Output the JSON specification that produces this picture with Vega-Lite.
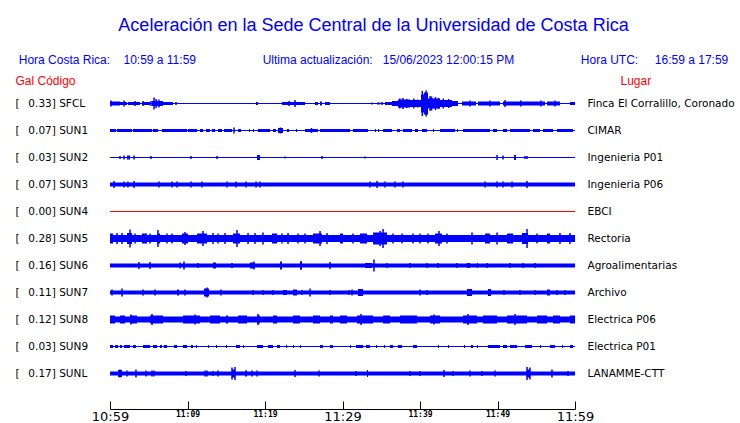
{
  "$schema": "https://vega.github.io/schema/vega-lite/v6.json",
  "width": 465,
  "height": 297,
  "autosize": {"type": "none"},
  "padding": {"left": 110, "top": 90, "right": 165, "bottom": 36},
  "background": "white",
  "config": {"view": {"stroke": null}},
  "title": {
    "text": "Aceleración en la Sede Central de la Universidad de Costa Rica",
    "subtitle": "Hora Costa Rica:\u00a0\u00a0\u00a0\u00a010:59 a 11:59\u00a0\u00a0\u00a0\u00a0\u00a0\u00a0\u00a0\u00a0\u00a0\u00a0\u00a0\u00a0\u00a0\u00a0\u00a0\u00a0\u00a0\u00a0\u00a0\u00a0Ultima actualización:\u00a0\u00a0\u00a015/06/2023 12:00:15 PM\u00a0\u00a0\u00a0\u00a0\u00a0\u00a0\u00a0\u00a0\u00a0\u00a0\u00a0\u00a0\u00a0\u00a0\u00a0\u00a0\u00a0\u00a0\u00a0\u00a0Hora UTC:\u00a0\u00a0\u00a0\u00a0\u00a016:59 a 17:59\u00a0",
    "anchor": "middle",
    "frame": "group",
    "dx": 31,
    "offset": 8,
    "font": "Liberation Sans",
    "fontSize": 18,
    "fontWeight": "normal",
    "color": "#0000ff",
    "subtitleFont": "Liberation Sans",
    "subtitleFontSize": 12,
    "subtitleColor": "#0000ff",
    "subtitlePadding": 20
  },
  "datasets": {
    "stations": [
      {"code": "SFCL", "gal": 0.33, "place": "Finca El Corralillo, Coronado", "label": "[\u00a0\u00a0\u20090.33] SFCL"},
      {"code": "SUN1", "gal": 0.07, "place": "CIMAR", "label": "[\u00a0\u00a0\u20090.07] SUN1"},
      {"code": "SUN2", "gal": 0.03, "place": "Ingenieria P01", "label": "[\u00a0\u00a0\u20090.03] SUN2"},
      {"code": "SUN3", "gal": 0.07, "place": "Ingenieria P06", "label": "[\u00a0\u00a0\u20090.07] SUN3"},
      {"code": "SUN4", "gal": 0.0, "place": "EBCI", "label": "[\u00a0\u00a0\u20090.00] SUN4"},
      {"code": "SUN5", "gal": 0.28, "place": "Rectoria", "label": "[\u00a0\u00a0\u20090.28] SUN5"},
      {"code": "SUN6", "gal": 0.16, "place": "Agroalimentarias", "label": "[\u00a0\u00a0\u20090.16] SUN6"},
      {"code": "SUN7", "gal": 0.11, "place": "Archivo", "label": "[\u00a0\u00a0\u20090.11] SUN7"},
      {"code": "SUN8", "gal": 0.12, "place": "Electrica P06", "label": "[\u00a0\u00a0\u20090.12] SUN8"},
      {"code": "SUN9", "gal": 0.03, "place": "Electrica P01", "label": "[\u00a0\u00a0\u20090.03] SUN9"},
      {"code": "SUNL", "gal": 0.17, "place": "LANAMME-CTT", "label": "[\u00a0\u00a0\u20090.17] SUNL"}
    ],
    "bands": [
      {"code": "SFCL", "start": 0, "end": 1.29, "amp": 4},
      {"code": "SFCL", "start": 1.29, "end": 2.19, "amp": 3},
      {"code": "SFCL", "start": 2.32, "end": 3.87, "amp": 3},
      {"code": "SFCL", "start": 4.13, "end": 5.16, "amp": 3},
      {"code": "SFCL", "start": 5.42, "end": 6.84, "amp": 5},
      {"code": "SFCL", "start": 6.84, "end": 8.13, "amp": 3},
      {"code": "SFCL", "start": 18.84, "end": 19.1, "amp": 3},
      {"code": "SFCL", "start": 22.19, "end": 25.16, "amp": 3},
      {"code": "SFCL", "start": 26.45, "end": 26.84, "amp": 3},
      {"code": "SFCL", "start": 27.1, "end": 27.35, "amp": 4},
      {"code": "SFCL", "start": 27.74, "end": 28.39, "amp": 3},
      {"code": "SFCL", "start": 34.45, "end": 34.84, "amp": 2},
      {"code": "SFCL", "start": 35.48, "end": 36.39, "amp": 3},
      {"code": "SFCL", "start": 36.39, "end": 37.16, "amp": 5},
      {"code": "SFCL", "start": 37.16, "end": 38.71, "amp": 8},
      {"code": "SFCL", "start": 38.71, "end": 40.13, "amp": 7},
      {"code": "SFCL", "start": 40.13, "end": 40.52, "amp": 18},
      {"code": "SFCL", "start": 40.52, "end": 41.03, "amp": 22},
      {"code": "SFCL", "start": 41.03, "end": 42.58, "amp": 10},
      {"code": "SFCL", "start": 42.58, "end": 44.13, "amp": 7},
      {"code": "SFCL", "start": 44.13, "end": 44.9, "amp": 5},
      {"code": "SFCL", "start": 45.42, "end": 47.23, "amp": 4},
      {"code": "SFCL", "start": 47.48, "end": 50.32, "amp": 4},
      {"code": "SFCL", "start": 50.71, "end": 54.19, "amp": 4},
      {"code": "SFCL", "start": 54.19, "end": 56.13, "amp": 4},
      {"code": "SFCL", "start": 56.39, "end": 58.06, "amp": 4},
      {"code": "SFCL", "start": 59.35, "end": 60, "amp": 3},

      {"code": "SUN1", "start": 0, "end": 0.77, "amp": 3},
      {"code": "SUN1", "start": 0.9, "end": 2.84, "amp": 3},
      {"code": "SUN1", "start": 2.97, "end": 5.42, "amp": 3},
      {"code": "SUN1", "start": 5.55, "end": 6.19, "amp": 3},
      {"code": "SUN1", "start": 6.71, "end": 9.94, "amp": 3},
      {"code": "SUN1", "start": 10.06, "end": 11.23, "amp": 3},
      {"code": "SUN1", "start": 11.61, "end": 12.0, "amp": 3},
      {"code": "SUN1", "start": 12.39, "end": 12.9, "amp": 3},
      {"code": "SUN1", "start": 13.16, "end": 13.55, "amp": 3},
      {"code": "SUN1", "start": 13.94, "end": 14.45, "amp": 3},
      {"code": "SUN1", "start": 14.71, "end": 15.74, "amp": 3},
      {"code": "SUN1", "start": 16.52, "end": 16.9, "amp": 3},
      {"code": "SUN1", "start": 17.94, "end": 18.06, "amp": 3},
      {"code": "SUN1", "start": 18.45, "end": 18.58, "amp": 3},
      {"code": "SUN1", "start": 19.1, "end": 20.65, "amp": 3},
      {"code": "SUN1", "start": 21.03, "end": 21.42, "amp": 3},
      {"code": "SUN1", "start": 21.68, "end": 22.32, "amp": 5},
      {"code": "SUN1", "start": 22.84, "end": 23.1, "amp": 3},
      {"code": "SUN1", "start": 24.0, "end": 24.13, "amp": 3},
      {"code": "SUN1", "start": 25.16, "end": 26.84, "amp": 3},
      {"code": "SUN1", "start": 27.1, "end": 30.97, "amp": 3},
      {"code": "SUN1", "start": 31.35, "end": 33.29, "amp": 3},
      {"code": "SUN1", "start": 34.19, "end": 34.32, "amp": 3},
      {"code": "SUN1", "start": 34.58, "end": 34.71, "amp": 3},
      {"code": "SUN1", "start": 35.23, "end": 36.39, "amp": 3},
      {"code": "SUN1", "start": 37.03, "end": 37.42, "amp": 3},
      {"code": "SUN1", "start": 37.81, "end": 38.97, "amp": 3},
      {"code": "SUN1", "start": 39.35, "end": 39.74, "amp": 3},
      {"code": "SUN1", "start": 40.26, "end": 40.9, "amp": 3},
      {"code": "SUN1", "start": 41.68, "end": 41.81, "amp": 3},
      {"code": "SUN1", "start": 42.58, "end": 44.52, "amp": 3},
      {"code": "SUN1", "start": 44.77, "end": 44.9, "amp": 3},
      {"code": "SUN1", "start": 45.55, "end": 49.03, "amp": 3},
      {"code": "SUN1", "start": 49.42, "end": 49.94, "amp": 3},
      {"code": "SUN1", "start": 50.71, "end": 51.23, "amp": 3},
      {"code": "SUN1", "start": 51.61, "end": 54.19, "amp": 3},
      {"code": "SUN1", "start": 54.58, "end": 55.48, "amp": 3},
      {"code": "SUN1", "start": 55.87, "end": 57.16, "amp": 3},
      {"code": "SUN1", "start": 57.68, "end": 59.74, "amp": 3},

      {"code": "SUN2", "start": 2.19, "end": 2.58, "amp": 4},
      {"code": "SUN2", "start": 18.97, "end": 19.35, "amp": 5},
      {"code": "SUN2", "start": 52.13, "end": 52.39, "amp": 5},

      {"code": "SUN3", "start": 0, "end": 60, "amp": 4},

      {"code": "SUN5", "start": 0, "end": 60, "amp": 7},
      {"code": "SUN5", "start": 0, "end": 0.39, "amp": 10},
      {"code": "SUN5", "start": 2.19, "end": 2.84, "amp": 11},
      {"code": "SUN5", "start": 4.13, "end": 4.77, "amp": 10},
      {"code": "SUN5", "start": 6.06, "end": 6.45, "amp": 10},
      {"code": "SUN5", "start": 9.29, "end": 10.06, "amp": 10},
      {"code": "SUN5", "start": 11.23, "end": 12.52, "amp": 10},
      {"code": "SUN5", "start": 15.87, "end": 16.77, "amp": 10},
      {"code": "SUN5", "start": 20.9, "end": 21.55, "amp": 10},
      {"code": "SUN5", "start": 26.19, "end": 27.35, "amp": 10},
      {"code": "SUN5", "start": 29.68, "end": 30.06, "amp": 10},
      {"code": "SUN5", "start": 32.26, "end": 33.16, "amp": 10},
      {"code": "SUN5", "start": 33.94, "end": 35.74, "amp": 12},
      {"code": "SUN5", "start": 41.94, "end": 42.84, "amp": 10},
      {"code": "SUN5", "start": 48.39, "end": 49.03, "amp": 10},
      {"code": "SUN5", "start": 51.23, "end": 52.0, "amp": 10},
      {"code": "SUN5", "start": 53.16, "end": 53.94, "amp": 11},
      {"code": "SUN5", "start": 56.39, "end": 56.77, "amp": 10},

      {"code": "SUN6", "start": 0, "end": 60, "amp": 4},
      {"code": "SUN6", "start": 13.29, "end": 13.68, "amp": 6},
      {"code": "SUN6", "start": 18.06, "end": 18.58, "amp": 6},
      {"code": "SUN6", "start": 21.94, "end": 22.19, "amp": 8},
      {"code": "SUN6", "start": 24.52, "end": 24.77, "amp": 7},
      {"code": "SUN6", "start": 32.9, "end": 33.81, "amp": 5},
      {"code": "SUN6", "start": 46.06, "end": 46.45, "amp": 5},
      {"code": "SUN6", "start": 47.35, "end": 47.48, "amp": 5},

      {"code": "SUN7", "start": 0, "end": 60, "amp": 4},
      {"code": "SUN7", "start": 8.65, "end": 8.9, "amp": 6},
      {"code": "SUN7", "start": 12.13, "end": 12.77, "amp": 8},
      {"code": "SUN7", "start": 22.32, "end": 22.84, "amp": 5},
      {"code": "SUN7", "start": 23.61, "end": 24.13, "amp": 6},
      {"code": "SUN7", "start": 32.0, "end": 32.65, "amp": 7},
      {"code": "SUN7", "start": 46.06, "end": 46.71, "amp": 7},
      {"code": "SUN7", "start": 48.77, "end": 49.16, "amp": 7},
      {"code": "SUN7", "start": 56.39, "end": 56.77, "amp": 6},

      {"code": "SUN8", "start": 0, "end": 60, "amp": 6},
      {"code": "SUN8", "start": 0, "end": 0.65, "amp": 8},
      {"code": "SUN8", "start": 1.29, "end": 1.94, "amp": 8},
      {"code": "SUN8", "start": 2.58, "end": 3.48, "amp": 8},
      {"code": "SUN8", "start": 5.16, "end": 6.84, "amp": 8},
      {"code": "SUN8", "start": 9.42, "end": 11.61, "amp": 8},
      {"code": "SUN8", "start": 12.9, "end": 14.19, "amp": 8},
      {"code": "SUN8", "start": 14.97, "end": 15.23, "amp": 8},
      {"code": "SUN8", "start": 16.52, "end": 17.68, "amp": 8},
      {"code": "SUN8", "start": 18.97, "end": 19.35, "amp": 8},
      {"code": "SUN8", "start": 21.03, "end": 21.55, "amp": 8},
      {"code": "SUN8", "start": 23.61, "end": 24.52, "amp": 8},
      {"code": "SUN8", "start": 26.19, "end": 27.1, "amp": 8},
      {"code": "SUN8", "start": 28.39, "end": 28.77, "amp": 8},
      {"code": "SUN8", "start": 29.68, "end": 30.58, "amp": 8},
      {"code": "SUN8", "start": 31.87, "end": 33.94, "amp": 8},
      {"code": "SUN8", "start": 35.23, "end": 36.13, "amp": 8},
      {"code": "SUN8", "start": 37.42, "end": 39.61, "amp": 8},
      {"code": "SUN8", "start": 41.29, "end": 42.58, "amp": 8},
      {"code": "SUN8", "start": 45.55, "end": 47.35, "amp": 8},
      {"code": "SUN8", "start": 48.13, "end": 49.94, "amp": 8},
      {"code": "SUN8", "start": 51.23, "end": 53.81, "amp": 8},
      {"code": "SUN8", "start": 55.1, "end": 56.39, "amp": 8},
      {"code": "SUN8", "start": 57.16, "end": 58.06, "amp": 8},
      {"code": "SUN8", "start": 59.35, "end": 60, "amp": 8},

      {"code": "SUN9", "start": 0, "end": 0.39, "amp": 3},
      {"code": "SUN9", "start": 0.65, "end": 1.03, "amp": 3},
      {"code": "SUN9", "start": 1.29, "end": 1.55, "amp": 3},
      {"code": "SUN9", "start": 1.81, "end": 2.58, "amp": 3},
      {"code": "SUN9", "start": 2.97, "end": 3.35, "amp": 3},
      {"code": "SUN9", "start": 4.26, "end": 5.16, "amp": 3},
      {"code": "SUN9", "start": 5.55, "end": 6.06, "amp": 3},
      {"code": "SUN9", "start": 6.45, "end": 6.71, "amp": 3},
      {"code": "SUN9", "start": 6.97, "end": 7.35, "amp": 3},
      {"code": "SUN9", "start": 8.26, "end": 8.65, "amp": 3},
      {"code": "SUN9", "start": 9.42, "end": 9.94, "amp": 3},
      {"code": "SUN9", "start": 10.45, "end": 10.71, "amp": 3},
      {"code": "SUN9", "start": 11.1, "end": 11.23, "amp": 3},
      {"code": "SUN9", "start": 12.65, "end": 12.77, "amp": 3},
      {"code": "SUN9", "start": 13.68, "end": 13.81, "amp": 3},
      {"code": "SUN9", "start": 14.97, "end": 15.1, "amp": 3},
      {"code": "SUN9", "start": 16.26, "end": 16.77, "amp": 3},
      {"code": "SUN9", "start": 17.16, "end": 17.29, "amp": 3},
      {"code": "SUN9", "start": 18.97, "end": 19.74, "amp": 3},
      {"code": "SUN9", "start": 20.39, "end": 21.03, "amp": 3},
      {"code": "SUN9", "start": 21.55, "end": 21.94, "amp": 3},
      {"code": "SUN9", "start": 22.71, "end": 22.84, "amp": 3},
      {"code": "SUN9", "start": 23.61, "end": 23.74, "amp": 3},
      {"code": "SUN9", "start": 24.52, "end": 24.65, "amp": 3},
      {"code": "SUN9", "start": 27.1, "end": 27.48, "amp": 3},
      {"code": "SUN9", "start": 28.39, "end": 28.77, "amp": 3},
      {"code": "SUN9", "start": 30.97, "end": 31.1, "amp": 3},
      {"code": "SUN9", "start": 31.74, "end": 32.65, "amp": 3},
      {"code": "SUN9", "start": 33.03, "end": 33.55, "amp": 3},
      {"code": "SUN9", "start": 34.32, "end": 34.45, "amp": 3},
      {"code": "SUN9", "start": 35.35, "end": 35.48, "amp": 3},
      {"code": "SUN9", "start": 36.13, "end": 36.52, "amp": 3},
      {"code": "SUN9", "start": 37.16, "end": 37.68, "amp": 3},
      {"code": "SUN9", "start": 39.1, "end": 39.61, "amp": 3},
      {"code": "SUN9", "start": 42.32, "end": 42.45, "amp": 3},
      {"code": "SUN9", "start": 43.61, "end": 43.74, "amp": 3},
      {"code": "SUN9", "start": 45.68, "end": 45.81, "amp": 3},
      {"code": "SUN9", "start": 46.58, "end": 46.84, "amp": 3},
      {"code": "SUN9", "start": 47.35, "end": 47.48, "amp": 3},
      {"code": "SUN9", "start": 48.77, "end": 50.32, "amp": 3},
      {"code": "SUN9", "start": 50.71, "end": 51.23, "amp": 3},
      {"code": "SUN9", "start": 51.61, "end": 52.52, "amp": 3},
      {"code": "SUN9", "start": 53.55, "end": 54.45, "amp": 3},
      {"code": "SUN9", "start": 55.48, "end": 55.61, "amp": 3},
      {"code": "SUN9", "start": 56.77, "end": 57.42, "amp": 3},
      {"code": "SUN9", "start": 58.32, "end": 58.45, "amp": 3},
      {"code": "SUN9", "start": 59.35, "end": 59.74, "amp": 3},

      {"code": "SUNL", "start": 0, "end": 60, "amp": 4},
      {"code": "SUNL", "start": 1.03, "end": 1.55, "amp": 7},
      {"code": "SUNL", "start": 15.74, "end": 16.13, "amp": 8},
      {"code": "SUNL", "start": 17.42, "end": 17.68, "amp": 6},
      {"code": "SUNL", "start": 33.16, "end": 33.29, "amp": 7},
      {"code": "SUNL", "start": 53.81, "end": 54.19, "amp": 8}
    ],
    "spikes": [
      {"code": "SFCL", "t": 0.13, "amp": 6}, {"code": "SFCL", "t": 1.81, "amp": 6}, {"code": "SFCL", "t": 3.23, "amp": 5},
      {"code": "SFCL", "t": 4.26, "amp": 5}, {"code": "SFCL", "t": 5.29, "amp": 5}, {"code": "SFCL", "t": 5.68, "amp": 12},
      {"code": "SFCL", "t": 5.94, "amp": 9}, {"code": "SFCL", "t": 6.32, "amp": 8}, {"code": "SFCL", "t": 8.52, "amp": 3},
      {"code": "SFCL", "t": 23.1, "amp": 5}, {"code": "SFCL", "t": 23.87, "amp": 7}, {"code": "SFCL", "t": 33.81, "amp": 2},
      {"code": "SFCL", "t": 35.1, "amp": 3}, {"code": "SFCL", "t": 37.4, "amp": 10}, {"code": "SFCL", "t": 37.8, "amp": 11},
      {"code": "SFCL", "t": 38.3, "amp": 9}, {"code": "SFCL", "t": 39.2, "amp": 10}, {"code": "SFCL", "t": 39.7, "amp": 8},
      {"code": "SFCL", "t": 40.3, "amp": 25}, {"code": "SFCL", "t": 40.8, "amp": 26}, {"code": "SFCL", "t": 41.3, "amp": 15},
      {"code": "SFCL", "t": 41.5, "amp": 14}, {"code": "SFCL", "t": 42.0, "amp": 13}, {"code": "SFCL", "t": 42.4, "amp": 11},
      {"code": "SFCL", "t": 43.0, "amp": 10}, {"code": "SFCL", "t": 43.7, "amp": 9}, {"code": "SFCL", "t": 46.45, "amp": 6},
      {"code": "SFCL", "t": 49.03, "amp": 6}, {"code": "SFCL", "t": 50.97, "amp": 7}, {"code": "SFCL", "t": 53.0, "amp": 6},
      {"code": "SFCL", "t": 55.6, "amp": 6}, {"code": "SFCL", "t": 57.42, "amp": 6},

      {"code": "SUN1", "t": 16.0, "amp": 6}, {"code": "SUN1", "t": 22.0, "amp": 6}, {"code": "SUN1", "t": 26.0, "amp": 5},

      {"code": "SUN2", "t": 1.29, "amp": 3}, {"code": "SUN2", "t": 1.81, "amp": 4}, {"code": "SUN2", "t": 3.1, "amp": 4},
      {"code": "SUN2", "t": 5.29, "amp": 3}, {"code": "SUN2", "t": 10.45, "amp": 3}, {"code": "SUN2", "t": 13.81, "amp": 3},
      {"code": "SUN2", "t": 22.58, "amp": 2}, {"code": "SUN2", "t": 27.35, "amp": 3}, {"code": "SUN2", "t": 32.9, "amp": 2},
      {"code": "SUN2", "t": 49.94, "amp": 5}, {"code": "SUN2", "t": 50.71, "amp": 4}, {"code": "SUN2", "t": 53.55, "amp": 3},
      {"code": "SUN2", "t": 53.81, "amp": 3},

      {"code": "SUN3", "t": 0.52, "amp": 7}, {"code": "SUN3", "t": 1.81, "amp": 6}, {"code": "SUN3", "t": 2.32, "amp": 6},
      {"code": "SUN3", "t": 3.1, "amp": 7}, {"code": "SUN3", "t": 6.32, "amp": 6}, {"code": "SUN3", "t": 8.0, "amp": 6},
      {"code": "SUN3", "t": 8.65, "amp": 6}, {"code": "SUN3", "t": 10.45, "amp": 6}, {"code": "SUN3", "t": 11.87, "amp": 6},
      {"code": "SUN3", "t": 15.1, "amp": 6}, {"code": "SUN3", "t": 16.26, "amp": 6}, {"code": "SUN3", "t": 17.55, "amp": 6},
      {"code": "SUN3", "t": 18.84, "amp": 6}, {"code": "SUN3", "t": 19.35, "amp": 6}, {"code": "SUN3", "t": 33.55, "amp": 6},
      {"code": "SUN3", "t": 34.45, "amp": 7}, {"code": "SUN3", "t": 35.48, "amp": 6}, {"code": "SUN3", "t": 36.77, "amp": 6},
      {"code": "SUN3", "t": 37.8, "amp": 6}, {"code": "SUN3", "t": 48.39, "amp": 6}, {"code": "SUN3", "t": 49.94, "amp": 6},
      {"code": "SUN3", "t": 50.71, "amp": 6}, {"code": "SUN3", "t": 51.87, "amp": 6}, {"code": "SUN3", "t": 53.81, "amp": 7},

      {"code": "SUN5", "t": 0.9, "amp": 11}, {"code": "SUN5", "t": 1.55, "amp": 11}, {"code": "SUN5", "t": 2.58, "amp": 18},
      {"code": "SUN5", "t": 3.23, "amp": 10}, {"code": "SUN5", "t": 5.16, "amp": 10}, {"code": "SUN5", "t": 6.19, "amp": 17},
      {"code": "SUN5", "t": 7.35, "amp": 10}, {"code": "SUN5", "t": 8.0, "amp": 10}, {"code": "SUN5", "t": 9.68, "amp": 13},
      {"code": "SUN5", "t": 12.0, "amp": 15}, {"code": "SUN5", "t": 13.29, "amp": 11}, {"code": "SUN5", "t": 13.94, "amp": 10},
      {"code": "SUN5", "t": 14.84, "amp": 11}, {"code": "SUN5", "t": 16.39, "amp": 17}, {"code": "SUN5", "t": 17.81, "amp": 11},
      {"code": "SUN5", "t": 18.71, "amp": 11}, {"code": "SUN5", "t": 19.74, "amp": 12}, {"code": "SUN5", "t": 22.19, "amp": 10},
      {"code": "SUN5", "t": 22.97, "amp": 11}, {"code": "SUN5", "t": 24.26, "amp": 10}, {"code": "SUN5", "t": 25.16, "amp": 10},
      {"code": "SUN5", "t": 27.1, "amp": 15}, {"code": "SUN5", "t": 28.0, "amp": 11}, {"code": "SUN5", "t": 31.35, "amp": 10},
      {"code": "SUN5", "t": 34.84, "amp": 15}, {"code": "SUN5", "t": 35.23, "amp": 19}, {"code": "SUN5", "t": 36.52, "amp": 10},
      {"code": "SUN5", "t": 37.68, "amp": 10}, {"code": "SUN5", "t": 39.1, "amp": 10}, {"code": "SUN5", "t": 40.0, "amp": 10},
      {"code": "SUN5", "t": 41.03, "amp": 10}, {"code": "SUN5", "t": 42.45, "amp": 15}, {"code": "SUN5", "t": 43.48, "amp": 10},
      {"code": "SUN5", "t": 46.71, "amp": 12}, {"code": "SUN5", "t": 49.94, "amp": 12}, {"code": "SUN5", "t": 53.81, "amp": 19},
      {"code": "SUN5", "t": 55.1, "amp": 10}, {"code": "SUN5", "t": 58.06, "amp": 11}, {"code": "SUN5", "t": 59.35, "amp": 11},

      {"code": "SUN6", "t": 3.74, "amp": 7}, {"code": "SUN6", "t": 5.16, "amp": 7}, {"code": "SUN6", "t": 9.03, "amp": 6},
      {"code": "SUN6", "t": 9.55, "amp": 8}, {"code": "SUN6", "t": 11.35, "amp": 5}, {"code": "SUN6", "t": 15.74, "amp": 5},
      {"code": "SUN6", "t": 18.58, "amp": 8}, {"code": "SUN6", "t": 24.65, "amp": 9}, {"code": "SUN6", "t": 28.39, "amp": 7},
      {"code": "SUN6", "t": 34.06, "amp": 12}, {"code": "SUN6", "t": 35.74, "amp": 5}, {"code": "SUN6", "t": 38.71, "amp": 5},
      {"code": "SUN6", "t": 40.9, "amp": 5}, {"code": "SUN6", "t": 42.32, "amp": 5}, {"code": "SUN6", "t": 44.77, "amp": 5},
      {"code": "SUN6", "t": 48.65, "amp": 5}, {"code": "SUN6", "t": 51.61, "amp": 5}, {"code": "SUN6", "t": 53.29, "amp": 5},
      {"code": "SUN6", "t": 54.84, "amp": 5},

      {"code": "SUN7", "t": 0.26, "amp": 6}, {"code": "SUN7", "t": 1.55, "amp": 8}, {"code": "SUN7", "t": 4.26, "amp": 6},
      {"code": "SUN7", "t": 5.81, "amp": 6}, {"code": "SUN7", "t": 9.68, "amp": 6}, {"code": "SUN7", "t": 12.52, "amp": 10},
      {"code": "SUN7", "t": 14.32, "amp": 6}, {"code": "SUN7", "t": 18.45, "amp": 5}, {"code": "SUN7", "t": 19.74, "amp": 5},
      {"code": "SUN7", "t": 21.03, "amp": 5}, {"code": "SUN7", "t": 24.77, "amp": 5}, {"code": "SUN7", "t": 25.81, "amp": 8},
      {"code": "SUN7", "t": 28.39, "amp": 5}, {"code": "SUN7", "t": 30.84, "amp": 5}, {"code": "SUN7", "t": 31.23, "amp": 6},
      {"code": "SUN7", "t": 40.0, "amp": 6}, {"code": "SUN7", "t": 40.9, "amp": 5}, {"code": "SUN7", "t": 50.84, "amp": 5},
      {"code": "SUN7", "t": 52.9, "amp": 5}, {"code": "SUN7", "t": 54.84, "amp": 5}, {"code": "SUN7", "t": 57.68, "amp": 5},
      {"code": "SUN7", "t": 58.71, "amp": 5},

      {"code": "SUN8", "t": 2.71, "amp": 10}, {"code": "SUN8", "t": 5.42, "amp": 11}, {"code": "SUN8", "t": 10.97, "amp": 10},
      {"code": "SUN8", "t": 19.1, "amp": 11}, {"code": "SUN8", "t": 32.39, "amp": 11}, {"code": "SUN8", "t": 41.81, "amp": 10},
      {"code": "SUN8", "t": 46.19, "amp": 11}, {"code": "SUN8", "t": 52.26, "amp": 11},

      {"code": "SUNL", "t": 1.29, "amp": 8}, {"code": "SUNL", "t": 2.19, "amp": 6}, {"code": "SUNL", "t": 3.35, "amp": 8},
      {"code": "SUNL", "t": 4.65, "amp": 6}, {"code": "SUNL", "t": 5.42, "amp": 6}, {"code": "SUNL", "t": 5.68, "amp": 6},
      {"code": "SUNL", "t": 9.81, "amp": 5}, {"code": "SUNL", "t": 12.26, "amp": 6}, {"code": "SUNL", "t": 12.52, "amp": 6},
      {"code": "SUNL", "t": 13.29, "amp": 5}, {"code": "SUNL", "t": 13.94, "amp": 6}, {"code": "SUNL", "t": 15.74, "amp": 12},
      {"code": "SUNL", "t": 16.13, "amp": 13}, {"code": "SUNL", "t": 18.32, "amp": 6}, {"code": "SUNL", "t": 18.97, "amp": 6},
      {"code": "SUNL", "t": 23.87, "amp": 7}, {"code": "SUNL", "t": 26.97, "amp": 6}, {"code": "SUNL", "t": 31.74, "amp": 5},
      {"code": "SUNL", "t": 38.71, "amp": 5}, {"code": "SUNL", "t": 40.0, "amp": 5}, {"code": "SUNL", "t": 43.1, "amp": 7},
      {"code": "SUNL", "t": 44.26, "amp": 5}, {"code": "SUNL", "t": 46.45, "amp": 6}, {"code": "SUNL", "t": 48.0, "amp": 5},
      {"code": "SUNL", "t": 49.68, "amp": 6}, {"code": "SUNL", "t": 53.81, "amp": 13}, {"code": "SUNL", "t": 54.19, "amp": 12},
      {"code": "SUNL", "t": 57.03, "amp": 8}, {"code": "SUNL", "t": 59.1, "amp": 5}
    ]
  },
  "resolve": {"scale": {"y": "independent"}, "axis": {"y": "independent"}},
  "layer": [
    {
      "layer": [
        {
          "data": {"name": "bands"},
          "transform": [
            {"lookup": "code", "from": {"data": {"name": "stations"}, "key": "code", "fields": ["label"]}}
          ],
          "mark": {"type": "bar", "color": "#0000ff"},
          "encoding": {
            "x": {
              "field": "start", "type": "quantitative",
              "scale": {"domain": [0, 60], "nice": false, "zero": false},
              "axis": {
                "orient": "bottom", "offset": 22, "title": null, "grid": false,
                "values": [0, 5, 10, 15, 20, 25, 30, 35, 40, 45, 50, 55, 60],
                "tickSize": -8, "tickColor": "black", "tickWidth": 1,
                "domainColor": "black", "domainWidth": 1,
                "labelFlush": false, "labelOverlap": false, "labelBound": false,
                "labelBaseline": "top", "labelPadding": 9, "labelColor": "black",
                "labelExpr": "datum.value % 10 == 0 ? floor((659 + datum.value) / 60) + ':' + (((659 + datum.value) % 60) < 10 ? '0' : '') + ((659 + datum.value) % 60) : ''",
                "labelFontSize": {"condition": {"test": "datum.value % 30 == 0", "value": 13}, "value": 8},
                "labelFont": {"condition": {"test": "datum.value % 30 == 0", "value": "DejaVu Sans"}, "value": "DejaVu Sans Mono"},
                "labelFontWeight": {"condition": {"test": "datum.value % 30 == 0", "value": "normal"}, "value": "bold"}
              }
            },
            "x2": {"field": "end"},
            "y": {
              "field": "label", "type": "nominal",
              "scale": {
                "domain": ["[\u00a0\u00a0\u20090.33] SFCL", "[\u00a0\u00a0\u20090.07] SUN1", "[\u00a0\u00a0\u20090.03] SUN2", "[\u00a0\u00a0\u20090.07] SUN3", "[\u00a0\u00a0\u20090.00] SUN4", "[\u00a0\u00a0\u20090.28] SUN5", "[\u00a0\u00a0\u20090.16] SUN6", "[\u00a0\u00a0\u20090.11] SUN7", "[\u00a0\u00a0\u20090.12] SUN8", "[\u00a0\u00a0\u20090.03] SUN9", "[\u00a0\u00a0\u20090.17] SUNL"],
                "paddingInner": 0, "paddingOuter": 0
              },
              "axis": {
                "orient": "left",
                "title": "Gal\u00a0Código",
                "titleAngle": 0, "titleX": -95, "titleY": -6, "titleAlign": "left", "titleBaseline": "alphabetic",
                "titleColor": "#ff0000", "titleFont": "Liberation Sans", "titleFontSize": 12, "titleFontWeight": "normal",
                "ticks": false, "tickSize": 0, "domain": false, "grid": false,
                "labelAlign": "left", "labelPadding": 95, "labelBaseline": "middle",
                "labelFont": "DejaVu Sans", "labelFontSize": 10.5, "labelColor": "black", "labelLimit": 200
              }
            },
            "size": {"field": "amp", "type": "quantitative", "scale": {"domain": [0, 30], "range": [0, 30]}, "legend": null}
          }
        },
        {
          "data": {"name": "spikes"},
          "transform": [
            {"lookup": "code", "from": {"data": {"name": "stations"}, "key": "code", "fields": ["label"]}}
          ],
          "mark": {"type": "tick", "color": "#0000ff", "thickness": 1.5, "orient": "vertical", "opacity": 1},
          "encoding": {
            "x": {"field": "t", "type": "quantitative"},
            "y": {"field": "label", "type": "nominal"},
            "size": {"field": "amp", "type": "quantitative", "legend": null}
          }
        }
      ]
    },
    {
      "data": {"name": "stations"},
      "mark": {"type": "rule", "strokeWidth": 1},
      "encoding": {
        "x": {"datum": 0, "type": "quantitative"},
        "x2": {"datum": 60},
        "y": {
          "field": "place", "type": "nominal",
          "scale": {
            "domain": ["Finca El Corralillo, Coronado", "CIMAR", "Ingenieria P01", "Ingenieria P06", "EBCI", "Rectoria", "Agroalimentarias", "Archivo", "Electrica P06", "Electrica P01", "LANAMME-CTT"],
            "paddingInner": 0, "paddingOuter": 0
          },
          "axis": {
            "orient": "right",
            "title": "Lugar",
            "titleAngle": 0, "titleX": 45, "titleY": -6, "titleAlign": "left", "titleBaseline": "alphabetic",
            "titleColor": "#ff0000", "titleFont": "Liberation Sans", "titleFontSize": 12, "titleFontWeight": "normal",
            "ticks": false, "tickSize": 0, "domain": false, "grid": false,
            "labelAlign": "left", "labelPadding": 12, "labelBaseline": "middle",
            "labelFont": "DejaVu Sans", "labelFontSize": 10.5, "labelColor": "black", "labelLimit": 200
          }
        },
        "color": {"condition": {"test": "datum.gal == 0", "value": "#ff0000"}, "value": "#0000ff"}
      }
    }
  ]
}
